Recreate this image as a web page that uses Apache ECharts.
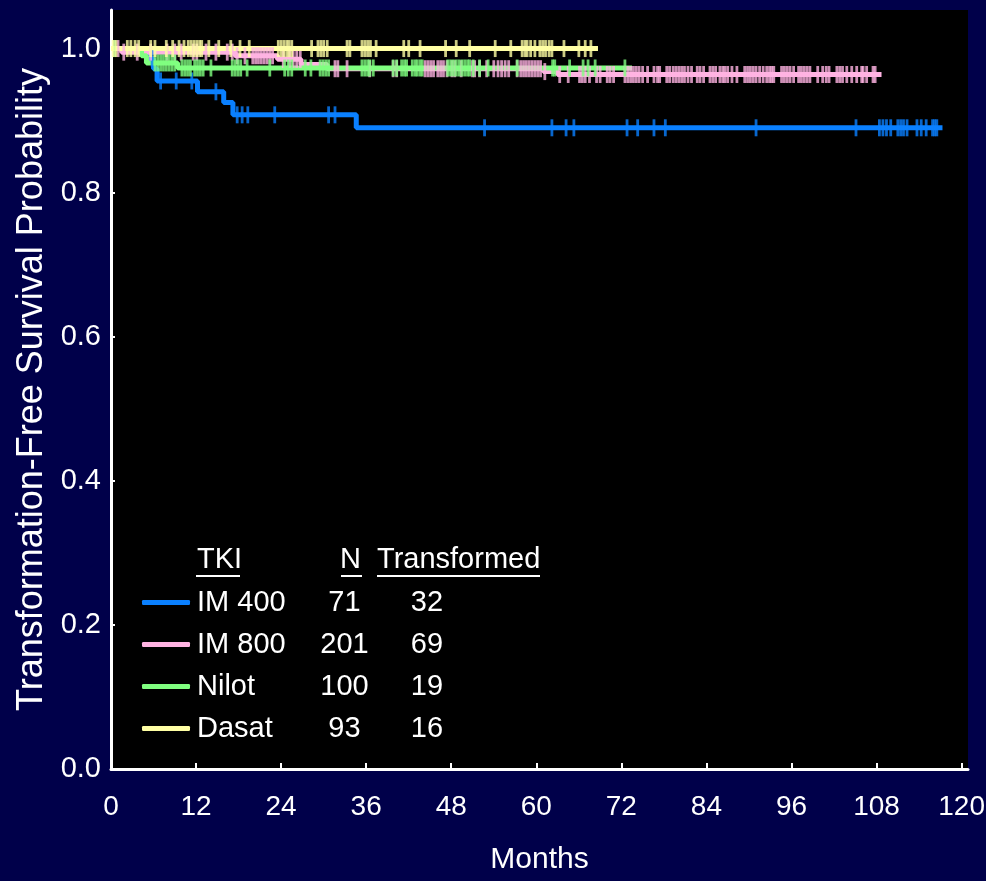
<!DOCTYPE html>
<html>
<head>
<meta charset="utf-8">
<script src="https://cdn.jsdelivr.net/npm/echarts@6/dist/echarts.min.js"></script>
<style>
html,body{margin:0;padding:0;background:#00004a;}
#chart{width:986px;height:881px;}
</style>
</head>
<body>
<div id="chart"></div>
<script>
// ---- data ----
const groups = ['IM 400', 'IM 800', 'Nilot', 'Dasat'];
const nValues = [71, 201, 100, 93];
const transformedValues = [32, 69, 19, 16];
const xTicks = [0, 12, 24, 36, 48, 60, 72, 84, 96, 108, 120];
const yTicks = [0.0, 0.2, 0.4, 0.6, 0.8, 1.0];

// Kaplan-Meier steps [month, survival]
const im400Steps = [[0,1.0],[5.4,0.986],[6.0,0.972],[6.5,0.955],[12.2,0.940],[15.9,0.925],[17.2,0.908],[34.6,0.890],[117.3,0.890]];
const im800Steps = [[0,1.0],[1.5,0.995],[17.5,0.990],[23.5,0.985],[26.8,0.978],[30.5,0.972],[61.0,0.968],[63.0,0.964],[108.7,0.964]];
const nilotSteps = [[0,1.0],[4.3,0.990],[5.0,0.980],[9.4,0.973],[73.5,0.973]];
const dasatSteps = [[0,1.0],[68.7,1.0]];

// censored times (months)
const im400Censor = [5.8,7.0,9.2,11.4,14.8,17.8,18.5,19.3,23.1,30.7,31.6,52.7,62.2,64.2,65.3,72.8,74.3,76.6,78.2,91.0,105.1,108.4,108.9,109.4,110.0,111.0,111.4,111.8,112.3,113.7,114.3,115.0,115.9,116.2,116.5];
const im800Censor = [1.0,1.8,3.7,5.6,7.9,9.0,9.9,11.6,12.1,13.4,14.8,16.4,17.1,17.8,18.9,20.0,20.4,20.8,21.2,21.6,22.0,22.4,22.8,24.3,25.2,25.7,26.2,26.7,31.6,32.0,33.3,36.5,39.8,40.3,
  44.3,44.7,45.1,45.5,46.1,46.5,46.9,47.4,48.1,48.5,49.4,51.0,51.3,52.0,53.0,54.0,54.6,55.1,55.6,56.1,57.3,57.8,58.2,58.6,59.0,59.4,59.8,60.2,60.6,61.2,
  63.3,64.5,66.1,66.5,66.9,67.5,68.5,69.0,70.0,70.4,70.9,72.5,72.9,73.3,73.7,74.1,74.5,75.0,75.7,76.6,77.1,77.4,78.4,78.8,79.3,79.7,80.1,80.5,80.9,81.4,81.9,
  82.7,83.1,83.6,84.5,84.9,85.3,85.9,86.3,86.6,87.0,87.6,88.3,89.4,89.8,90.2,90.6,91.0,91.5,92.0,92.5,92.9,93.2,93.5,94.6,95.0,95.4,95.8,96.3,97.0,97.4,97.8,98.2,98.6,
  99.7,100.4,100.9,101.3,102.4,102.8,103.2,103.8,104.5,105.2,105.9,106.1,106.6,107.5,107.8];
const nilotCensor = [0.5,6.2,6.6,7.0,7.4,7.8,8.2,8.6,9.0,10.0,10.4,10.8,11.2,11.8,12.2,12.6,13.0,14.1,17.1,17.5,17.9,18.3,19.2,22.4,24.5,25.0,25.5,27.4,28.2,29.5,29.9,30.3,30.7,35.4,35.8,36.2,36.5,37.0,39.8,40.3,41.0,41.4,41.7,42.5,42.9,43.2,43.6,43.9,47.5,47.9,48.3,48.7,49.1,49.5,49.9,50.3,50.6,51.1,52.0,53.2,57.3,62.3,62.6,64.7,66.6,67.3,68.3,72.5];
const dasatCensor = [0.3,0.7,2.3,2.8,3.4,3.9,5.6,6.2,7.8,8.7,9.6,10.3,10.9,11.3,11.7,12.1,12.5,12.8,13.8,15.2,16.9,18.2,19.5,23.6,24.0,24.4,24.8,25.1,25.5,28.3,29.2,29.6,30.0,30.5,33.3,33.7,35.4,35.8,36.2,36.6,37.4,41.3,42.0,43.6,47.2,48.7,50.6,54.2,56.4,58.0,58.4,58.7,59.2,59.8,60.5,60.9,61.3,61.8,62.2,63.9,66.0,66.9,67.7];

const colors = ['#0a80ff', '#ffb3e2', '#80ff80', '#ffffa4'];
const stepsList = [im400Steps, im800Steps, nilotSteps, dasatSteps];
const censorList = [im400Censor, im800Censor, nilotCensor, dasatCensor];

function survivalAt(steps, t) {
  let s = steps[0][1];
  for (const p of steps) { if (p[0] <= t) s = p[1]; }
  return s;
}

const FONT = '"Liberation Sans", Arial, sans-serif';
const series = [];
groups.forEach((g, i) => {
  series.push({
    name: g, type: 'line', step: 'end', data: stepsList[i],
    showSymbol: false, symbol: 'none', silent: true,
    itemStyle: { color: colors[i] },
    lineStyle: { color: colors[i], width: 5 },
    z: 2
  });
  series.push({
    name: g + ' censored', type: 'scatter', silent: true,
    data: censorList[i].map(t => [t, survivalAt(stepsList[i], t)]),
    symbol: 'rect', symbolSize: [2.8, 17],
    itemStyle: { color: colors[i] },
    z: 2
  });
});

const chart = echarts.init(document.getElementById('chart'), null, { renderer: 'canvas' });
chart.setOption({
  animation: false,
  backgroundColor: '#00004a',
  grid: { left: 111, right: 18, top: 10, bottom: 112, show: true, backgroundColor: '#000000', borderWidth: 0,
          containLabel: false, outerBoundsMode: 'none' },
  xAxis: {
    type: 'value', min: 0, max: 120.9, interval: 12,
    name: 'Months', nameLocation: 'middle', nameGap: 76,
    nameTextStyle: { color: '#fff', fontSize: 30, fontFamily: FONT },
    axisLine: { show: true, lineStyle: { color: '#fff', width: 3 } },
    axisTick: { show: true, inside: true, length: 6, lineStyle: { color: '#fff', width: 2 }, customValues: xTicks },
    axisLabel: { color: '#fff', fontSize: 28, fontFamily: FONT, margin: 24, customValues: xTicks,
      formatter: v => String(Math.round(v)) },
    splitLine: { show: false }
  },
  yAxis: {
    type: 'value', min: 0, max: 1.0535, interval: 0.2,
    name: 'Transformation-Free Survival Probability', nameLocation: 'middle', nameGap: 60, nameRotate: 90,
    nameTextStyle: { color: '#fff', fontSize: 36, fontFamily: FONT },
    axisLine: { show: true, lineStyle: { color: '#fff', width: 3 } },
    axisTick: { show: true, inside: true, length: 4, lineStyle: { color: '#fff', width: 2 }, customValues: yTicks },
    axisLabel: { color: '#fff', fontSize: 29, fontFamily: FONT, margin: 10, customValues: yTicks,
      formatter: v => v.toFixed(1) },
    splitLine: { show: false }
  },
  legend: {
    data: groups, orient: 'vertical', left: 137, top: 583,
    itemWidth: 48, itemHeight: 5, itemGap: 13, icon: 'roundRect',
    selectedMode: false,
    formatter: name => {
      const i = groups.indexOf(name);
      return '{a|' + name + '}{b|' + nValues[i] + '}{c|' + transformedValues[i] + '}';
    },
    textStyle: {
      color: '#fff', fontSize: 29, fontFamily: FONT,
      rich: {
        a: { color: '#fff', fontSize: 29, fontFamily: FONT, width: 130, align: 'left', padding: [0, 0, 0, 2] },
        b: { color: '#fff', fontSize: 29, fontFamily: FONT, width: 35, align: 'right' },
        c: { color: '#fff', fontSize: 29, fontFamily: FONT, width: 130, align: 'center' }
      }
    }
  },
  graphic: [
    { type: 'text', left: 197, top: 545, style: { text: 'TKI', fill: '#fff', font: '29px ' + FONT } },
    { type: 'text', right: 986 - 361, top: 545, style: { text: 'N', fill: '#fff', font: '29px ' + FONT } },
    { type: 'text', left: 377, top: 545, style: { text: 'Transformed', fill: '#fff', font: '29px ' + FONT } },
    { type: 'rect', shape: { x: 196, y: 575, width: 44, height: 2 }, style: { fill: '#fff' } },
    { type: 'rect', shape: { x: 341, y: 575, width: 21, height: 2 }, style: { fill: '#fff' } },
    { type: 'rect', shape: { x: 377, y: 575, width: 163, height: 2 }, style: { fill: '#fff' } }
  ],
  series: series
});
</script>
</body>
</html>
